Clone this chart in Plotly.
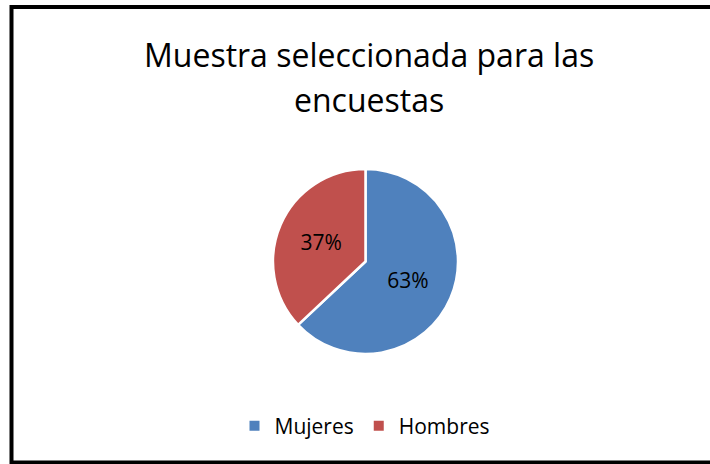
import plotly.graph_objects as go

categories = ["Mujeres", "Hombres"]
values = [63, 37]
colors = ["#4F81BD", "#C0504D"]
title_lines = ["Muestra seleccionada para las", "encuestas"]

W, H = 710, 464
FONT = "Open Sans"

fig = go.Figure(go.Pie(
    labels=categories,
    values=values,
    sort=False,
    direction="clockwise",
    rotation=0,
    marker=dict(colors=colors, line=dict(color="white", width=2.5)),
    textinfo="percent",
    textposition="inside",
    insidetextorientation="horizontal",
    textfont=dict(family=FONT, size=21, color="black"),
    domain=dict(x=[273 / W, 458 / W], y=[1 - 354 / H, 1 - 169 / H]),
    hoverinfo="label+percent",
))

fig.update_layout(
    width=W, height=H,
    margin=dict(l=0, r=0, t=0, b=0),
    paper_bgcolor="white",
    plot_bgcolor="white",
    showlegend=True,
    legend=dict(
        orientation="h",
        x=365 / W, xanchor="center",
        y=1 - 426 / H, yanchor="middle",
        font=dict(family=FONT, size=21, color="black"),
        itemsizing="constant",
        traceorder="normal",
    ),
    annotations=[
        dict(text=title_lines[0], x=369 / W, y=1 - 55 / H, xref="paper", yref="paper",
             xanchor="center", yanchor="middle", showarrow=False,
             font=dict(family=FONT, size=32, color="black")),
        dict(text=title_lines[1], x=369 / W, y=1 - 100 / H, xref="paper", yref="paper",
             xanchor="center", yanchor="middle", showarrow=False,
             font=dict(family=FONT, size=32, color="black")),
    ],
    shapes=[
        dict(type="rect", xref="paper", yref="paper",
             x0=11.5 / W, x1=1.06, y0=1 - 462.5 / H, y1=1 - 7 / H,
             line=dict(color="black", width=4), fillcolor="rgba(0,0,0,0)"),
    ],
)

fig.write_html("out.html")
